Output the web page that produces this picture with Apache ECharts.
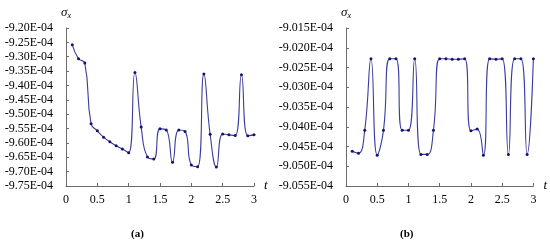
<!DOCTYPE html>
<html>
<head>
<meta charset="utf-8">
<script src="https://cdn.jsdelivr.net/npm/echarts@6/dist/echarts.min.js"></script>
<style>
	html, body { margin: 0; padding: 0; background: #fff; }
	#chart { width: 550px; height: 242px; }
</style>
</head>
<body>
<div id="chart"></div>
<script>
	// time steps (shared by both panels)
	const tValues = [0.1, 0.2, 0.3, 0.4, 0.5, 0.6, 0.7, 0.8, 0.9, 1.0,
		1.1, 1.2, 1.3, 1.4, 1.5, 1.6, 1.7, 1.8, 1.9, 2.0,
		2.1, 2.2, 2.3, 2.4, 2.5, 2.6, 2.7, 2.8, 2.9, 3.0]

	// panel (a) sigma_x
	const sigmaA = [-9.258e-4, -9.307e-4, -9.322e-4, -9.533e-4, -9.558e-4, -9.580e-4, -9.596e-4, -9.610e-4, -9.621e-4, -9.634e-4,
		-9.355e-4, -9.545e-4, -9.649e-4, -9.656e-4, -9.551e-4, -9.555e-4, -9.667e-4, -9.555e-4, -9.560e-4, -9.677e-4,
		-9.683e-4, -9.360e-4, -9.570e-4, -9.684e-4, -9.569e-4, -9.572e-4, -9.574e-4, -9.363e-4, -9.575e-4, -9.572e-4]

	// panel (b) sigma_x
	const sigmaB = [-9.0462e-4, -9.0467e-4, -9.0409e-4, -9.0228e-4, -9.0472e-4, -9.0409e-4, -9.0228e-4, -9.0228e-4, -9.0409e-4, -9.0409e-4,
		-9.0228e-4, -9.0470e-4, -9.0470e-4, -9.0409e-4, -9.0228e-4, -9.0228e-4, -9.0229e-4, -9.0229e-4, -9.0228e-4, -9.0410e-4,
		-9.0406e-4, -9.0472e-4, -9.0228e-4, -9.0229e-4, -9.0228e-4, -9.0470e-4, -9.0228e-4, -9.0228e-4, -9.0470e-4, -9.0228e-4]

	// axis ranges
	const xTicks = { min: 0, max: 3, interval: 0.5 }
	const yRangeA = { min: -9.75e-4, max: -9.20e-4, interval: 0.05e-4 }
	const yRangeB = { min: -9.055e-4, max: -9.015e-4, interval: 0.005e-4 }

	const font = '"Liberation Serif", "DejaVu Serif", serif'
	const axisColor = '#6a6a6a'
	const lineColor = '#3b3b9e'
	const dotColor = '#14146e'

	function xAxisOf(idx) {
		return {
			type: 'value', gridIndex: idx,
			min: xTicks.min, max: xTicks.max, interval: xTicks.interval,
			name: 't', nameLocation: 'end', nameGap: 10,
			nameTextStyle: { fontFamily: font, fontStyle: 'italic', fontSize: 13, color: '#000', verticalAlign: 'middle', padding: [0, 0, 2, 0] },
			axisLine: { lineStyle: { color: axisColor, width: 1 } },
			axisTick: { inside: true, length: 3, lineStyle: { color: axisColor } },
			axisLabel: { fontFamily: font, fontSize: 12, color: '#000', margin: 8 },
			splitLine: { show: false }
		}
	}

	function yAxisOf(idx, r, digits) {
		return {
			type: 'value', gridIndex: idx,
			min: r.min, max: r.max, interval: r.interval,
			name: '{s|σ}{x|x}', nameLocation: 'end', nameGap: 8,
			nameTextStyle: {
				rich: {
					s: { fontFamily: font, fontStyle: 'italic', fontSize: 13, color: '#000' },
					x: { fontFamily: font, fontStyle: 'italic', fontSize: 8, color: '#000', padding: [6, 0, 0, 0] }
				}
			},
			axisLine: { show: true, lineStyle: { color: axisColor, width: 1 } },
			axisTick: { show: true, inside: true, length: 3, lineStyle: { color: axisColor } },
			axisLabel: {
				fontFamily: font, fontSize: 12, color: '#000', margin: 13,
				formatter: v => (v * 1e4).toFixed(digits) + 'E-04'
			},
			splitLine: { show: false }
		}
	}

	function seriesOf(idx, values) {
		return {
			type: 'line', xAxisIndex: idx, yAxisIndex: idx,
			data: tValues.map((t, i) => [t, values[i]]),
			smooth: 0.5,
			symbol: 'circle', symbolSize: 3,
			itemStyle: { color: dotColor },
			lineStyle: { color: lineColor, width: 1.1 },
			animation: false
		}
	}

	const chart = echarts.init(document.getElementById('chart'), null, { renderer: 'canvas' })
	chart.setOption({
		backgroundColor: '#fff',
		animation: false,
		grid: [
			{ left: 66, top: 28, width: 188, height: 158 },
			{ left: 346, top: 28, width: 189, height: 158 }
		],
		xAxis: [xAxisOf(0), xAxisOf(1)],
		yAxis: [yAxisOf(0, yRangeA, 2), yAxisOf(1, yRangeB, 3)],
		series: [seriesOf(0, sigmaA), seriesOf(1, sigmaB)],
		graphic: [
			{ type: 'text', left: 131, top: 229, style: { text: '(a)', font: 'bold 11px ' + font, fill: '#000' } },
			{ type: 'text', left: 400, top: 229, style: { text: '(b)', font: 'bold 11px ' + font, fill: '#000' } }
		]
	})
</script>
</body>
</html>
